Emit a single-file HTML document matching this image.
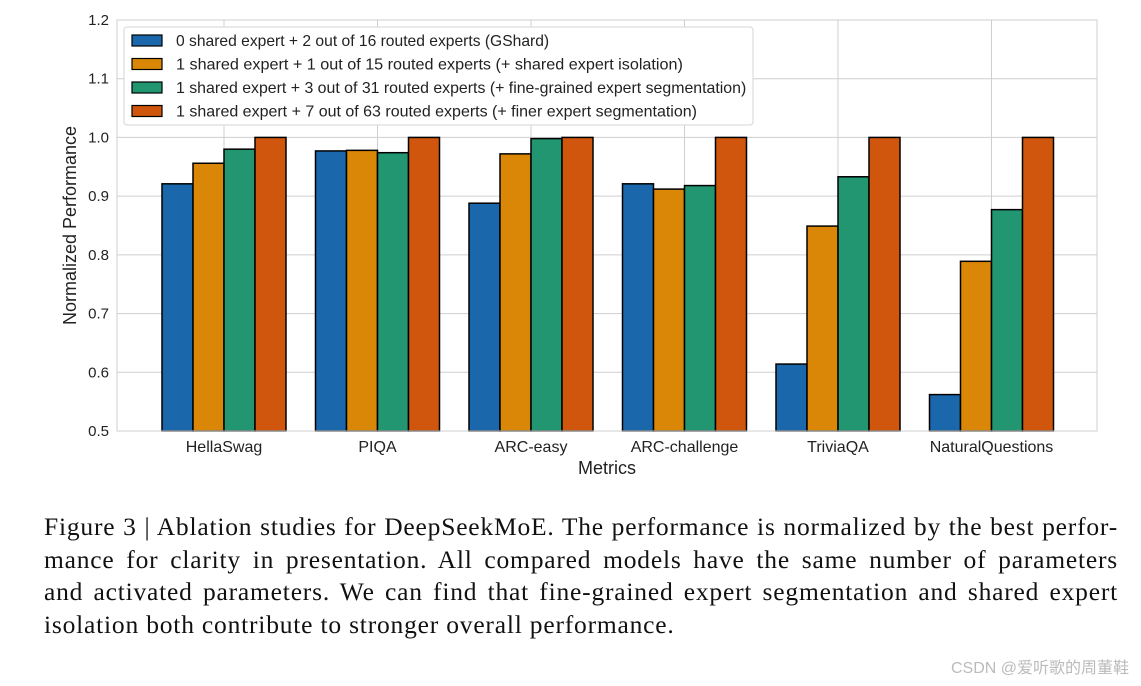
<!DOCTYPE html>
<html><head><meta charset="utf-8">
<style>
body{margin:0;background:#fff;width:1141px;height:686px;overflow:hidden;position:relative;font-family:"Liberation Sans",sans-serif}
#cap{position:absolute;left:44px;top:511px;width:1074px;font-family:"Liberation Serif",serif;font-size:25.5px;letter-spacing:0.8px;line-height:32.5px;color:#111}
#cap div{text-align:justify;text-align-last:justify;white-space:nowrap}
#cap div.last{text-align-last:left}
#wm{position:absolute;right:12px;top:654px;font-family:"Liberation Sans","Noto Sans CJK SC",sans-serif;font-size:16px;color:#bbb}
</style></head><body>
<svg id="chart" width="1141" height="500" style="position:absolute;left:0;top:0" font-family="Liberation Sans, sans-serif"></svg>
<div id="cap">
<div>Figure 3 | Ablation studies for DeepSeekMoE. The performance is normalized by the best perfor-</div>
<div>mance for clarity in presentation. All compared models have the same number of parameters</div>
<div>and activated parameters. We can find that fine-grained expert segmentation and shared expert</div>
<div class="last">isolation both contribute to stronger overall performance.</div>
</div>
<div id="wm">CSDN @爱听歌的周董鞋</div>
<script>
const categories=["HellaSwag","PIQA","ARC-easy","ARC-challenge","TriviaQA","NaturalQuestions"];
const gshard=[0.921,0.977,0.888,0.921,0.614,0.562];
const sharedIso=[0.956,0.978,0.972,0.912,0.849,0.789];
const fineSeg=[0.980,0.974,0.998,0.918,0.933,0.877];
const finerSeg=[1.0,1.0,1.0,1.0,1.0,1.0];
const seriesNames=["0 shared expert + 2 out of 16 routed experts (GShard)","1 shared expert + 1 out of 15 routed experts (+ shared expert isolation)","1 shared expert + 3 out of 31 routed experts (+ fine-grained expert segmentation)","1 shared expert + 7 out of 63 routed experts (+ finer expert segmentation)"];
const yTicks=[0.5,0.6,0.7,0.8,0.9,1.0,1.1,1.2];
const colors=["#1a68ab","#da8707","#219670","#cf560c"];
const series=[gshard,sharedIso,fineSeg,finerSeg];
const L=117,R=1097,T=20,B=431,ymin=0.5,ymax=1.2;
const y=v=>B-(v-ymin)/(ymax-ymin)*(B-T);
const gw=153.5;
const xc=i=>224+gw*i;
const bw=31;
const svg=document.getElementById('chart');
const NS="http://www.w3.org/2000/svg";
function mk(tag,attrs,parent){const e=document.createElementNS(NS,tag);for(const k in attrs)e.setAttribute(k,attrs[k]);(parent||svg).appendChild(e);return e;}
yTicks.forEach(t=>{
 const l=mk('line',{x1:L,x2:R,y1:y(t),y2:y(t),stroke:'#cfcfcf','stroke-width':1});
 
 
 const tx=mk('text',{x:L-8,y:y(t)+5,'text-anchor':'end','font-size':15,fill:'#222'});
 tx.textContent=t.toFixed(1);
 
 
});
categories.forEach((c,i)=>{
 const l=mk('line',{x1:xc(i),x2:xc(i),y1:T,y2:B,stroke:'#cfcfcf','stroke-width':1});
 
 
});
categories.forEach((c,i)=>{
 series.forEach((s,j)=>{
  const x=xc(i)+(j-2)*bw;
  const r=mk('rect',{x:x,y:y(s[i]),width:bw,height:B-y(s[i]),fill:colors[j],stroke:'#000','stroke-width':1.5});
  
  
 });
 const tx=mk('text',{x:xc(i),y:B+21,'text-anchor':'middle','font-size':16,fill:'#222'});
 tx.textContent=c;
 
 
});
const fr=mk('rect',{x:L,y:T,width:R-L,height:B-T,fill:'none',stroke:'#cfcfcf'});


const xt=mk('text',{x:(L+R)/2,y:474,'text-anchor':'middle','font-size':18,fill:'#222'});
xt.textContent="Metrics";


const yt=mk('text',{x:76,y:(T+B)/2,'text-anchor':'middle','font-size':18,fill:'#222',transform:'rotate(-90 76 '+(T+B)/2+')'});
yt.textContent="Normalized Performance";


const lg=mk('g',{});


mk('rect',{x:124,y:27,width:629,height:98,fill:'#fff',stroke:'#d5d5d5',rx:3},lg);
seriesNames.forEach((n,j)=>{
 const yy=35+j*23.5;
 const r=mk('rect',{x:132,y:yy,width:30,height:11,fill:colors[j],stroke:'#000','stroke-width':1.2},lg);
 
 
 const t=mk('text',{x:176,y:yy+11,'font-size':15.8,fill:'#222',textLength:n.length*7.04,lengthAdjust:'spacingAndGlyphs'},lg);
 t.textContent=n;
 
 
});
</script>
</body></html>
